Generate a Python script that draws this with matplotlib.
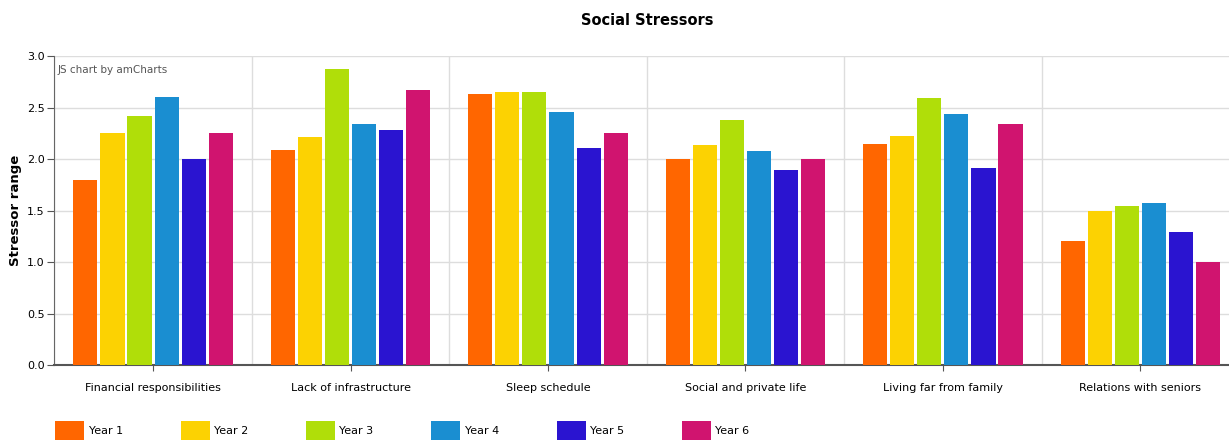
import numpy as np
import matplotlib
matplotlib.use('Agg')
import matplotlib.pyplot as plt
from matplotlib.ticker import MultipleLocator

categories = ['Financial responsibilities', 'Lack of infrastructure', 'Sleep schedule',
              'Social and private life', 'Living far from family', 'Relations with seniors']
series_names = ['Year 1', 'Year 2', 'Year 3', 'Year 4', 'Year 5', 'Year 6']
year1 = [1.80, 2.09, 2.63, 2.00, 2.15, 1.20]
year2 = [2.25, 2.21, 2.65, 2.14, 2.22, 1.50]
year3 = [2.42, 2.87, 2.65, 2.38, 2.59, 1.54]
year4 = [2.60, 2.34, 2.46, 2.08, 2.44, 1.57]
year5 = [2.00, 2.28, 2.11, 1.89, 1.91, 1.29]
year6 = [2.25, 2.67, 2.25, 2.00, 2.34, 1.00]
colors = ['#FF6600', '#FCD202', '#B0DE09', '#1A8ED1', '#2A14D0', '#D0146F']


def main():
    plt.rcParams['font.family'] = ['DejaVu Sans']
    fig = plt.figure(figsize=(12.29, 4.41), dpi=100)
    ax = fig.add_axes([0.0442, 0.1723, 0.964, 0.7007])

    dados = [year1, year2, year3, year4, year5, year6]
    x = np.arange(len(categories))
    passo = 0.137
    largura = 0.122
    barras = []
    for i, valores in enumerate(dados):
        desloc = (i - 2.5) * passo
        b = ax.bar(x + desloc, valores, width=largura, color=colors[i],
                   label=series_names[i], zorder=3)
        barras.append(b)

    ax.set_xlim(-0.5, len(categories) - 0.5)
    ax.set_ylim(0, 3.0)
    ax.yaxis.set_major_locator(MultipleLocator(0.5))
    ax.set_yticks(np.arange(0, 3.01, 0.5))
    ax.set_yticklabels(['%.1f' % v for v in np.arange(0, 3.01, 0.5)], fontsize=8)
    ax.set_xticks(x)
    ax.set_xticklabels(categories, fontsize=8)
    ax.set_xticks(np.arange(-0.5, len(categories)), minor=True)
    ax.tick_params(axis='x', which='minor', length=0)
    ax.tick_params(axis='x', which='major', length=4, color='#555555', pad=9)
    ax.tick_params(axis='y', length=5, color='#555555', pad=2)

    ax.grid(axis='y', color='#dddddd', linewidth=1, zorder=0)
    ax.grid(axis='x', which='minor', color='#dddddd', linewidth=1, zorder=0)
    for lado in ['top', 'right']:
        ax.spines[lado].set_visible(False)
    ax.spines['left'].set_color('#666666')
    ax.spines['bottom'].set_color('#555555')
    ax.spines['bottom'].set_linewidth(1.5)

    ax.set_ylabel('Stressor range', fontsize=9.5, fontweight='bold')
    ax.yaxis.set_label_coords(-0.027, 0.5)
    fig.text(0.5265, 0.953, 'Social Stressors', fontsize=10.5, fontweight='bold',
             ha='center', va='center')
    ax.text(0.003, 0.955, 'JS chart by amCharts', transform=ax.transAxes,
            fontsize=7.5, color='#555555', ha='left', va='center')

    fig.legend(handles=barras, labels=series_names, loc='lower left',
               bbox_to_anchor=(0.037, -0.02), ncol=6, frameon=False, fontsize=8,
               handlelength=2.6, handleheight=2.2, handletextpad=0.4,
               columnspacing=5.2)

    fig.savefig('out.png', dpi=100)


if __name__ == '__main__':
    main()
